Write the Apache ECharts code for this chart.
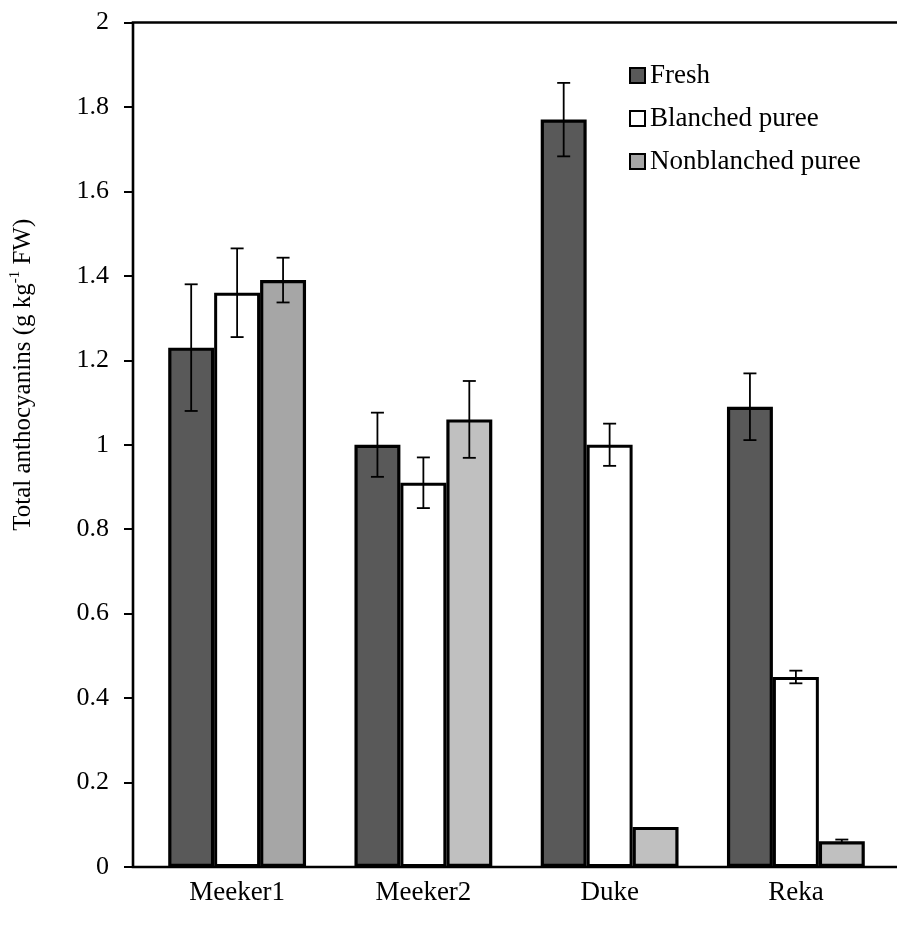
<!DOCTYPE html>
<html>
<head>
<meta charset="utf-8">
<script src="https://cdn.jsdelivr.net/npm/echarts@6/dist/echarts.min.js"></script>
<style>
  html, body { margin: 0; padding: 0; background: #fff; }
  #chart { width: 897px; height: 926px; }
</style>
</head>
<body>
<div id="chart"></div>
<script>
var categories = ['Meeker1', 'Meeker2', 'Duke', 'Reka'];
var seriesNames = ['Fresh', 'Blanched puree', 'Nonblanched puree'];
var fresh = [1.23, 1.00, 1.77, 1.09];
var freshErr = [0.15, 0.076, 0.087, 0.079];
var blanched = [1.36, 0.91, 1.00, 0.45];
var blanchedErr = [0.105, 0.06, 0.05, 0.015];
var nonblanched = [1.39, 1.06, 0.095, 0.061];
var nonblanchedErr = [0.053, 0.091, 0, 0.004];
var yTicks = [0, 0.2, 0.4, 0.6, 0.8, 1, 1.2, 1.4, 1.6, 1.8, 2];

var FONT = 'Liberation Serif';
var CAT_GAP = 0.26; // share of the band left empty between groups

function errRender(pos) {
  return function (params, api) {
    var e = api.value(2);
    if (!e) return null;
    var x = api.value(0), v = api.value(1);
    var band = api.size([1, 0])[0];
    var bw = band * (1 - CAT_GAP) / 3;
    var cx = api.coord([x, v])[0] + (pos - 1) * bw;
    var top = api.coord([x, v + e])[1];
    var bot = api.coord([x, v - e])[1];
    var cap = 6.5;
    var st = { stroke: '#000', lineWidth: 1.8 };
    return {
      type: 'group',
      children: [
        { type: 'line', shape: { x1: cx, y1: top, x2: cx, y2: bot }, style: st },
        { type: 'line', shape: { x1: cx - cap, y1: top, x2: cx + cap, y2: top }, style: st },
        { type: 'line', shape: { x1: cx - cap, y1: bot, x2: cx + cap, y2: bot }, style: st }
      ]
    };
  };
}

function errData(vals, errs) {
  return vals.map(function (v, i) { return [i, v, errs[i]]; });
}

var chart = echarts.init(document.getElementById('chart'));
chart.setOption({
  animation: false,
  backgroundColor: '#fff',
  textStyle: { fontFamily: FONT, color: '#000' },
  legend: {
    data: seriesNames,
    orient: 'vertical',
    left: 624,
    top: 57,
    itemWidth: 15,
    itemHeight: 15,
    itemGap: 16,
    icon: 'rect',
    textStyle: { fontFamily: FONT, fontSize: 27, color: '#000' }
  },
  grid: [
    { left: 144, width: 745, top: 22.5, bottom: 59, outerBoundsMode: 'none' },
    {
      left: 133, right: -20, top: 22.5, bottom: 59, outerBoundsMode: 'none',
      show: true, borderColor: '#000', borderWidth: 2.6, z: 3
    }
  ],
  xAxis: [
    {
      type: 'category', gridIndex: 0, data: categories,
      axisLine: { show: false }, axisTick: { show: false },
      axisLabel: { fontFamily: FONT, fontSize: 27, color: '#000', margin: 12 }
    },
    { type: 'value', gridIndex: 1, show: false }
  ],
  yAxis: [
    { type: 'value', gridIndex: 0, min: 0, max: 2, show: false },
    {
      type: 'value', gridIndex: 1, min: 0, max: 2, interval: 0.2,
      splitLine: { show: false },
      axisLine: { show: false },
      axisTick: { show: true, length: 9, lineStyle: { color: '#000', width: 2 } },
      axisLabel: { fontFamily: FONT, fontSize: 26, color: '#000', margin: 24 },
      name: '{a|Total anthocyanins (g kg}{s|-1}{a| FW)}',
      nameLocation: 'middle',
      nameRotate: 90,
      nameGap: 94,
      nameTextStyle: {
        padding: [0, 0, 0, 140],
        rich: {
          a: { fontFamily: FONT, fontSize: 25, color: '#000' },
          s: { fontFamily: FONT, fontSize: 15, color: '#000', padding: [0, 0, 16, 0] }
        }
      }
    }
  ],
  series: [
    {
      name: 'Fresh', type: 'bar', xAxisIndex: 0, yAxisIndex: 0,
      barGap: 0, barCategoryGap: (CAT_GAP * 100) + '%',
      itemStyle: { color: '#595959', borderColor: '#000', borderWidth: 3.2 },
      data: fresh, z: 4
    },
    {
      name: 'Blanched puree', type: 'bar', xAxisIndex: 0, yAxisIndex: 0,
      barGap: 0, barCategoryGap: (CAT_GAP * 100) + '%',
      itemStyle: { color: '#ffffff', borderColor: '#000', borderWidth: 3 },
      data: blanched, z: 4
    },
    {
      name: 'Nonblanched puree', type: 'bar', xAxisIndex: 0, yAxisIndex: 0,
      barGap: 0, barCategoryGap: (CAT_GAP * 100) + '%',
      itemStyle: { color: '#a6a6a6', borderColor: '#000', borderWidth: 3.2 },
      data: nonblanched.map(function (v, i) {
        return i === 0 ? v : { value: v, itemStyle: { color: '#c0c0c0' } };
      }),
      z: 4
    },
    { type: 'custom', xAxisIndex: 0, yAxisIndex: 0, renderItem: errRender(0), data: errData(fresh, freshErr), z: 6 },
    { type: 'custom', xAxisIndex: 0, yAxisIndex: 0, renderItem: errRender(1), data: errData(blanched, blanchedErr), z: 6 },
    { type: 'custom', xAxisIndex: 0, yAxisIndex: 0, renderItem: errRender(2), data: errData(nonblanched, nonblanchedErr), z: 6 }
  ]
});
</script>
</body>
</html>
